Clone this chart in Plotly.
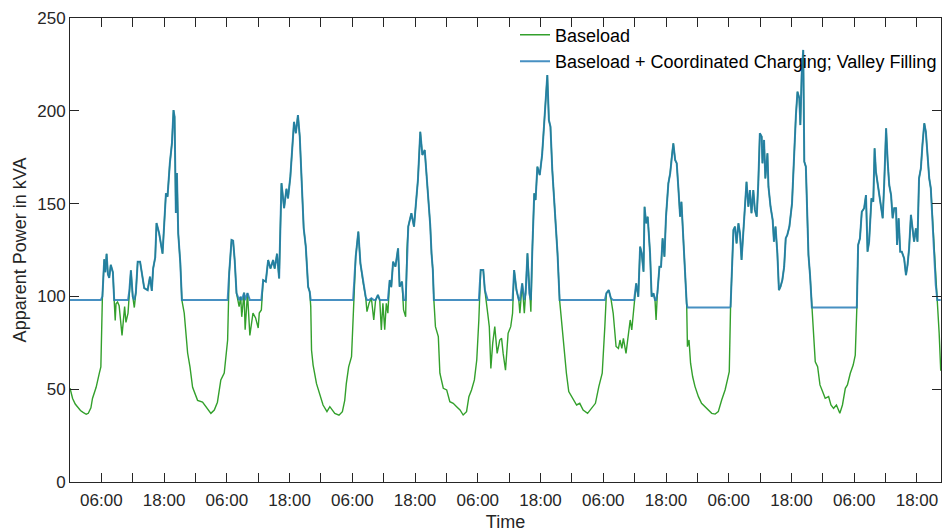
import numpy as np
import plotly.graph_objects as go

# time in hours since start of the week, baseload apparent power in kVA
hours = [
    0.0, 0.5, 1.0, 1.5, 2.0, 2.5, 3.1, 3.5, 4.0, 4.3, 5.0, 5.6, 5.9, 6.2, 6.4, 6.55, 6.75, 7.0, 7.25, 7.5,
    7.8, 8.2, 8.45, 8.65, 8.8, 9.1, 9.4, 9.95, 10.45, 10.7, 11.1, 11.35, 11.65, 12.0, 12.3, 12.6, 12.95, 13.4, 13.75, 14.2,
    14.85, 15.3, 15.65, 15.9, 16.3, 16.55, 17.05, 17.7, 18.35, 18.65, 19.1, 19.5, 19.8, 20.0, 20.25, 20.45, 20.7, 21.1, 21.4, 21.85,
    22.5, 22.95, 23.45, 24.4, 25.35, 26.0, 26.95, 27.6, 28.2, 28.85, 29.5, 30.15, 30.45, 30.9, 31.2, 31.5, 31.85, 32.35, 32.65, 32.85,
    33.3, 33.5, 33.95, 34.4, 35.0, 35.5, 36.0, 36.2, 36.6, 36.95, 37.45, 37.9, 38.35, 38.85, 39.15, 39.6, 40.0, 40.45, 40.95, 41.4,
    41.7, 42.15, 42.55, 42.85, 43.2, 43.6, 43.95, 44.3, 44.7, 45.1, 45.55, 45.85, 46.05, 46.2, 46.5, 47.15, 47.75, 48.4, 49.15, 49.7,
    50.65, 51.45, 52.1, 52.55, 52.85, 53.3, 53.85, 54.15, 54.65, 55.15, 55.55, 56.05, 56.55, 56.8, 57.2, 57.65, 58.1, 58.45, 58.9, 59.25,
    59.55, 59.85, 60.2, 60.5, 60.8, 61.15, 61.45, 61.8, 62.25, 62.75, 63.05, 63.5, 63.8, 64.2, 64.45, 64.7, 65.3, 65.8, 66.25, 66.55,
    67.0, 67.4, 67.85, 68.3, 68.65, 68.9, 69.15, 69.4, 69.6, 69.9, 70.45, 70.75, 71.4, 72.05, 72.65, 73.3, 73.95, 74.6, 75.2, 75.85,
    76.3, 76.8, 77.35, 77.8, 78.2, 78.55, 79.05, 79.35, 79.9, 80.2, 80.5, 80.85, 81.25, 81.7, 82.2, 82.55, 82.85, 83.3, 83.8, 84.3,
    84.65, 84.95, 85.4, 85.85, 86.05, 86.5, 86.9, 87.15, 87.5, 87.85, 88.15, 88.45, 88.8, 89.05, 89.4, 89.85, 90.3, 90.7, 90.95, 91.3,
    91.6, 91.9, 92.25, 92.6, 92.85, 93.25, 93.65, 94.0, 94.55, 94.95, 95.4, 96.25, 96.9, 97.5, 98.15, 99.0, 99.75, 100.5, 101.15, 101.8,
    102.3, 102.6, 103.05, 103.45, 103.9, 104.45, 104.9, 105.2, 105.55, 105.85, 106.35, 106.8, 107.15, 107.45, 107.9, 108.3, 108.7, 109.05, 109.35, 109.7,
    109.9, 110.2, 110.5, 110.95, 111.25, 111.6, 111.9, 112.1, 112.35, 112.75, 113.05, 113.35, 113.7, 114.0, 114.45, 114.8, 115.1, 115.4, 115.75, 116.05,
    116.35, 116.7, 116.95, 117.2, 117.45, 117.7, 117.95, 118.1, 118.4, 118.7, 119.1, 119.55, 120.2, 120.8, 121.45, 122.1, 122.75, 123.4, 124.0, 124.65,
    125.3, 125.75, 126.1, 126.35, 126.65, 126.9, 127.2, 127.5, 127.85, 128.15, 128.45, 128.8, 129.1, 129.4, 129.75, 130.05, 130.35, 130.7, 131.0, 131.35,
    131.65, 131.95, 132.3, 132.45, 132.75, 133.0, 133.4, 133.6, 134.0, 134.4, 134.65, 134.95, 135.3, 135.6, 135.9, 136.25, 136.6, 136.9, 137.2, 137.6,
    138.1, 138.55, 138.85, 139.15, 139.5, 139.7, 139.95, 140.25, 140.45, 140.75, 141.1, 141.25, 141.55, 141.9, 142.15, 142.55, 143.0, 143.45, 143.95, 144.45,
    145.1, 145.55, 146.05, 146.6, 147.25, 147.75, 148.3, 148.7, 149.25, 149.8, 150.2, 150.5, 150.75, 151.1, 151.45, 151.9, 152.25, 152.55, 152.85, 153.3,
    153.65, 153.9, 154.15, 154.45, 154.8, 155.1, 155.45, 155.75, 156.1, 156.4, 156.7, 157.05, 157.35, 157.65, 158.0, 158.2, 158.5, 158.8, 159.1, 159.55,
    159.9, 160.2, 160.5, 160.85, 161.15, 161.45, 161.8, 162.1, 162.4, 162.75, 163.05, 163.4, 163.7, 164.0, 164.35, 164.65, 164.95, 165.3, 165.6, 165.9,
    166.25, 166.55,
]

baseload_kva = [
    50.6, 45, 42, 40, 38.5, 37.5, 36.5, 37, 40, 45, 51, 58.5, 62, 100, 118, 120, 113, 123, 112, 110,
    117, 113, 98, 87, 96, 97, 95, 79, 94.5, 86, 91, 103, 114, 100, 94, 102, 118.7, 118.7, 112.6, 104.5,
    103.4, 110.6, 103, 115, 121, 139.5, 134, 123, 155.6, 153.7, 171.8, 182.6, 200.4, 196.8, 145, 166.5, 134, 118, 98, 91,
    69.5, 62, 51, 44, 43, 40.6, 37, 38.8, 43, 55, 58.7, 76.5, 112.6, 130.4, 130, 119.6, 101.8, 94.5, 99.8, 89,
    102, 82, 101.8, 79, 91, 88.4, 83, 91, 92.7, 108.8, 108, 119.6, 115, 119.6, 115, 123, 109.7, 161, 147.5, 158,
    152.8, 164.5, 178.9, 194, 187.9, 197.7, 186, 166.3, 136.7, 126.8, 105.2, 102.5, 94.5, 71, 63, 53, 47.8, 41.5, 37.9, 40.6,
    37, 36, 37.9, 44, 53, 62, 67.5, 91, 121.4, 134.9, 117.8, 108, 99.8, 91.8, 96.3, 99, 87.3, 98, 100.8, 98,
    81.9, 96.3, 82, 96.3, 91, 108.8, 105, 118.7, 116, 125.9, 105.2, 108, 92.7, 89, 125, 137.6, 144.8, 137.6, 152.9, 162.7,
    188.7, 176.2, 178.9, 162.7, 148.3, 138.5, 123.2, 114.2, 98, 83.7, 78.3, 58.6, 50.5, 49.6, 43.3, 42.4, 40.6, 38.8, 36.1, 37.9,
    46, 49.6, 55, 65.7, 87.3, 114.2, 114.2, 103.4, 90.9, 83.7, 61.2, 74.7, 83.7, 69.3, 76.5, 77.4, 69.3, 60.3, 80.1, 83.7,
    90.9, 114.2, 103.4, 98, 90.9, 107, 90.9, 101.7, 123.2, 101.7, 91.8, 126.8, 155.5, 151.9, 169.9, 165.4, 176.2, 193.3, 205.8, 219.3,
    195, 191.4, 168.1, 151.9, 144.8, 123.2, 98, 87.3, 69.3, 58.6, 48.7, 44.2, 41.5, 42.4, 38.8, 37, 39.7, 42.4, 51.4, 58.6,
    83.7, 101.7, 103.4, 99, 90.9, 73, 72, 76.5, 72, 77.4, 69.3, 80.1, 87.3, 81.9, 94.5, 107, 99.8, 126.8, 123.2, 113.3,
    148.3, 139.4, 142.9, 123.2, 99.8, 101.7, 98, 87.3, 101.7, 116, 116, 131.3, 121.4, 142.9, 160.9, 166.3, 175.3, 182.5, 173.5, 171.7,
    159.1, 142.9, 151, 135.8, 123.2, 108.8, 96.3, 72.9, 76.5, 64, 56.7, 51.4, 46, 42.4, 40.6, 38.8, 37, 36.6, 37.9, 44.2,
    49.6, 55, 59.4, 94.5, 125, 135.8, 137.6, 128.6, 139.4, 134, 119.6, 137.6, 151.9, 161.8, 148.3, 157.3, 144.8, 157.3, 146.6, 142.9,
    160.9, 187.9, 186, 171.7, 184.3, 163.6, 177.1, 159.1, 148.3, 141.2, 129.5, 137.6, 123.2, 103.4, 105.2, 108.8, 116, 131.3, 133.1, 137.6,
    150, 180, 197.7, 210.3, 206.7, 192.3, 219.3, 232.8, 172.6, 169.9, 127.7, 122.3, 111.5, 93.6, 86.4, 64.8, 62.1, 52.3, 48.7, 45.1,
    46, 41.5, 39.7, 41.5, 37, 41.5, 50.5, 52.3, 58.6, 63, 68.4, 93.6, 127.7, 131.3, 145.6, 147.5, 154.6, 124.1, 129.5, 152.9,
    151, 179.8, 167.2, 161.8, 156.4, 151, 142.1, 161.8, 190.6, 172.6, 160, 154.6, 142.1, 147.5, 147.5, 127.7, 142.1, 124.1, 124.1, 120.5,
    111.5, 116.9, 125.9, 143.9, 134.9, 129.5, 136.7, 129.5, 163.6, 169, 181.6, 193.3, 188.7, 176.2, 163.6, 158.2, 142.1, 125.9, 106, 97,
    80, 60,
]

# valley-filling level (kVA) applied from each start hour onward
valley_start_h = [0, 115, 159]
valley_level_kva = [98, 94, 98]

tick_hours = list(range(0, 168, 6))
tick_labels = ["06:00" if h % 24 == 6 else ("18:00" if h % 24 == 18 else "") for h in tick_hours]

t = np.array(hours)
base = np.array(baseload_kva)
idx = np.searchsorted(np.array(valley_start_h), t, side="right") - 1
level = np.array(valley_level_kva)[idx]
coordinated = np.maximum(base, level)

font_family = "Liberation Sans, Arial, sans-serif"
axis_col = "#262626"

fig = go.Figure()
fig.add_trace(go.Scatter(x=t, y=base, mode="lines", name="Baseload",
                         line=dict(color="#33a02c", width=1.4)))
fig.add_trace(go.Scatter(x=t, y=coordinated, mode="lines",
                         name="Baseload + Coordinated Charging; Valley Filling",
                         line=dict(color="rgba(31,120,180,0.82)", width=2)))

fig.update_layout(
    width=942, height=532,
    margin=dict(l=70, r=0, t=18, b=50),
    plot_bgcolor="white", paper_bgcolor="white",
    font=dict(family=font_family, size=17, color=axis_col),
    showlegend=True,
    legend=dict(x=0.511, y=1.003, xanchor="left", yanchor="top",
                bgcolor="rgba(0,0,0,0)", borderwidth=0,
                font=dict(size=18, color="black"),
                tracegroupgap=0, itemwidth=30),
    xaxis=dict(range=[0, 166.6], tickmode="array", tickvals=tick_hours, ticktext=tick_labels,
               ticks="inside", ticklen=9, tickcolor=axis_col, showline=True, linecolor=axis_col,
               linewidth=1, mirror="ticks", showgrid=False, zeroline=False,
               ticklabelstandoff=3,
               title=dict(text="Time", standoff=8, font=dict(size=18)),
               tickfont=dict(size=17)),
    yaxis=dict(range=[0, 250], tickmode="array", tickvals=[0, 50, 100, 150, 200, 250],
               ticks="inside", ticklen=9, tickcolor=axis_col, showline=True, linecolor=axis_col,
               linewidth=1, mirror="ticks", showgrid=False, zeroline=False,
               title=dict(text="Apparent Power in kVA", standoff=5, font=dict(size=18)),
               tickfont=dict(size=17)),
)

fig.write_html("out.html")
